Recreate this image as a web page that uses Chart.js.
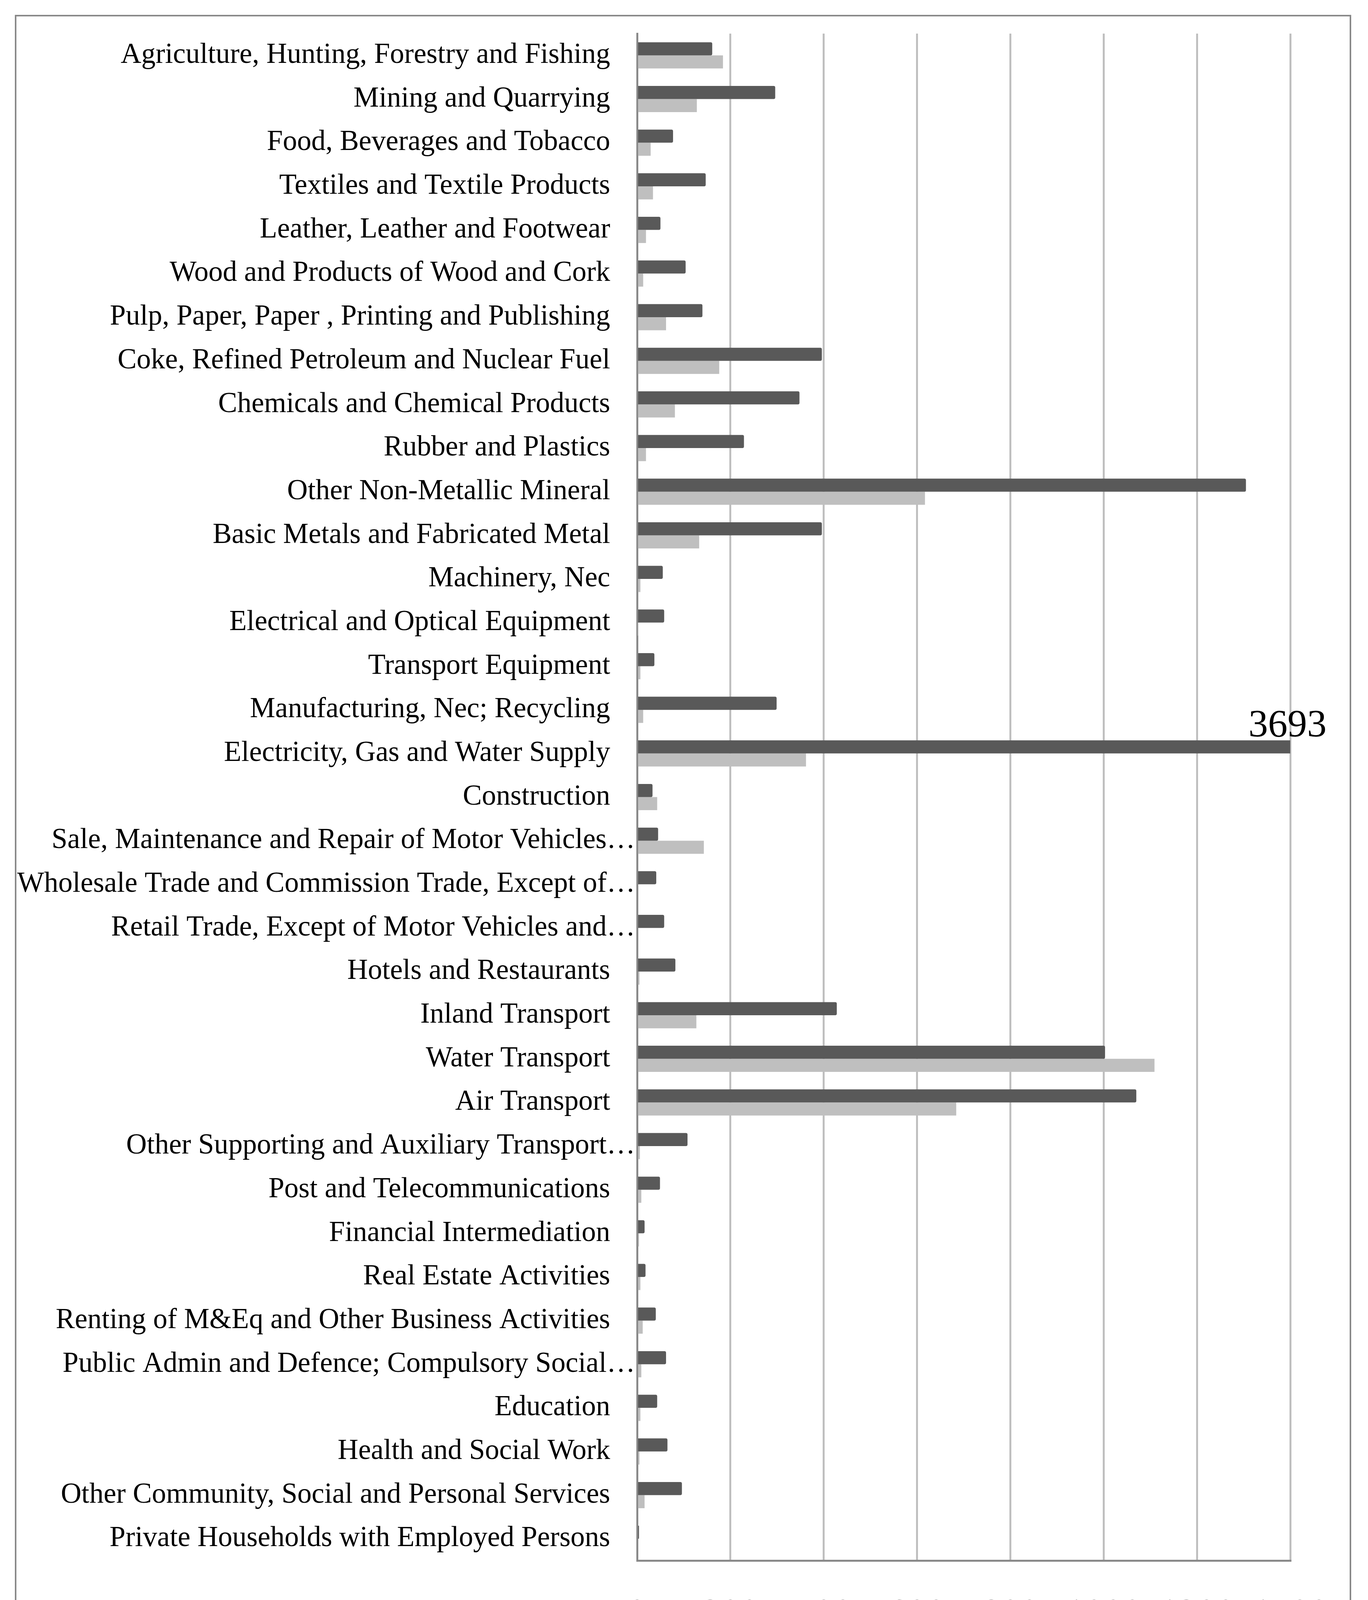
<!DOCTYPE html>
<html>
<head>
<meta charset="utf-8">
<script src="https://cdn.jsdelivr.net/npm/chart.js@4/dist/chart.umd.min.js"></script>
<style>
html,body{margin:0;padding:0;background:#ffffff;overflow:hidden;}
#wrap{position:relative;width:3502px;height:4415px;overflow:hidden;}
#c{position:absolute;left:0;top:0;width:3502px;height:4415px;}
#frame{position:absolute;left:38px;top:38px;width:3421px;height:4345px;border:4px solid #898989;box-sizing:border-box;pointer-events:none;}
</style>
</head>
<body>
<div id="wrap">
<canvas id="c" width="3502" height="4415"></canvas>
<div id="frame"></div>
</div>
<script>
const categories = [
  "Agriculture, Hunting, Forestry and Fishing",
  "Mining and Quarrying",
  "Food, Beverages and Tobacco",
  "Textiles and Textile Products",
  "Leather, Leather and Footwear",
  "Wood and Products of Wood and Cork",
  "Pulp, Paper, Paper , Printing and Publishing",
  "Coke, Refined Petroleum and Nuclear Fuel",
  "Chemicals and Chemical Products",
  "Rubber and Plastics",
  "Other Non-Metallic Mineral",
  "Basic Metals and Fabricated Metal",
  "Machinery, Nec",
  "Electrical and Optical Equipment",
  "Transport Equipment",
  "Manufacturing, Nec; Recycling",
  "Electricity, Gas and Water Supply",
  "Construction",
  "Sale, Maintenance and Repair of Motor Vehicles…",
  "Wholesale Trade and Commission Trade, Except of…",
  "Retail Trade, Except of Motor Vehicles and…",
  "Hotels and Restaurants",
  "Inland Transport",
  "Water Transport",
  "Air Transport",
  "Other Supporting and Auxiliary Transport…",
  "Post and Telecommunications",
  "Financial Intermediation",
  "Real Estate Activities",
  "Renting of M&Eq and Other Business Activities",
  "Public Admin and Defence; Compulsory Social…",
  "Education",
  "Health and Social Work",
  "Other Community, Social and Personal Services",
  "Private Households with Employed Persons"
];

const worldIntensity = [161, 296, 77, 147, 50, 104, 140, 396, 348, 229, 1305, 396, 55, 58, 37, 299, 3693, 33, 45, 41, 58, 82, 428, 1003, 1070, 108, 49, 16, 18, 40, 62, 43, 65, 96, 4];
const swedishIntensity = [184, 128, 29, 34, 19, 13, 62, 176, 81, 19, 617, 133, 7, 1, 7, 13, 362, 43, 143, 0, 0, 5, 127, 1109, 684, 6, 9, 4, 7, 12, 9, 7, 5, 16, 0];

const seriesNames = ["World average carbon intensity", "Swedish carbon intensity"];
const xTickValues = [0, 200, 400, 600, 800, 1000, 1200, 1400];

const FONT = '"Liberation Serif", "DejaVu Serif", serif';
Chart.defaults.font.family = FONT;
Chart.defaults.color = '#000000';

// category labels: full labels end short of the axis, truncated ones run up to it (as in the original)
const categoryLabels = {
  id: 'categoryLabels',
  afterDraw(chart) {
    const ctx = chart.ctx;
    const ys = chart.scales.y;
    ctx.save();
    ctx.font = '73px ' + FONT;
    ctx.fillStyle = '#000000';
    ctx.textAlign = 'right';
    ctx.textBaseline = 'middle';
    chart.data.labels.forEach((lab, i) => {
      const y = ys.getPixelForTick(i);
      const x = lab.endsWith('…') ? ys.right - 5 : ys.right - 69;
      ctx.fillText(lab, x, y);
    });
    ctx.restore();
  }
};

// value label for a bar that runs past the axis maximum
const overflowLabel = {
  id: 'overflowLabel',
  afterDatasetsDraw(chart) {
    const ctx = chart.ctx;
    const xs = chart.scales.x;
    const area = chart.chartArea;
    chart.data.datasets.forEach((ds, di) => {
      const meta = chart.getDatasetMeta(di);
      ds.data.forEach((v, i) => {
        if (v > xs.max) {
          const el = meta.data[i];
          const top = el.y - el.height / 2;
          ctx.save();
          ctx.font = '100px ' + FONT;
          ctx.fillStyle = '#000000';
          ctx.textAlign = 'center';
          ctx.textBaseline = 'alphabetic';
          ctx.fillText(String(v), area.right - 7, top - 10);
          ctx.restore();
        }
      });
    });
  }
};

// legend below the axis
const bottomLegend = {
  id: 'bottomLegend',
  afterDraw(chart) {
    const ctx = chart.ctx;
    const items = [
      {box: [435, 4207, 60, 64], textX: 518},
      {box: [1993, 4211, 57, 58], textX: 2073}
    ];
    ctx.save();
    ctx.font = '100px ' + FONT;
    ctx.textAlign = 'left';
    ctx.textBaseline = 'alphabetic';
    chart.data.datasets.forEach((ds, i) => {
      const it = items[i];
      ctx.fillStyle = ds.backgroundColor;
      ctx.fillRect(it.box[0], it.box[1], it.box[2], it.box[3]);
      ctx.fillStyle = '#000000';
      ctx.fillText(ds.label, it.textX, 4268);
    });
    ctx.restore();
  }
};

new Chart(document.getElementById('c'), {
  type: 'bar',
  data: {
    labels: categories,
    datasets: [
      {
        label: seriesNames[0],
        data: worldIntensity,
        backgroundColor: '#595959',
        borderRadius: 4,
        categoryPercentage: 0.6,
        barPercentage: 1.0
      },
      {
        label: seriesNames[1],
        data: swedishIntensity,
        backgroundColor: '#bfbfbf',
        borderRadius: 0,
        categoryPercentage: 0.6,
        barPercentage: 1.0
      }
    ]
  },
  options: {
    indexAxis: 'y',
    responsive: false,
    maintainAspectRatio: false,
    devicePixelRatio: 1,
    animation: false,
    layout: {padding: {left: 0, right: 199, top: 86, bottom: 220}},
    plugins: {
      legend: {display: false},
      tooltip: {enabled: false},
      title: {display: false}
    },
    scales: {
      x: {
        type: 'linear',
        position: 'bottom',
        min: 0,
        max: 1400,
        afterBuildTicks(scale) {
          scale.ticks = xTickValues.map(v => ({value: v}));
        },
        afterFit(scale) { scale.height = 200; },
        grid: {color: '#bfbfbf', lineWidth: 5, drawTicks: false},
        border: {display: true, color: '#898989', width: 5},
        ticks: {
          font: {size: 98, family: FONT},
          color: '#000000',
          padding: 80,
          autoSkip: false,
          maxRotation: 0,
          minRotation: 0,
          callback: (v) => String(v)
        }
      },
      y: {
        type: 'category',
        position: 'left',
        afterFit(scale) {
          scale.width = 1631;
          scale.paddingTop = 0;
          scale.paddingBottom = 0;
        },
        grid: {display: false, drawTicks: false},
        border: {display: true, color: '#898989', width: 5},
        ticks: {display: false, autoSkip: false}
      }
    }
  },
  plugins: [categoryLabels, overflowLabel, bottomLegend]
});
</script>
</body>
</html>
